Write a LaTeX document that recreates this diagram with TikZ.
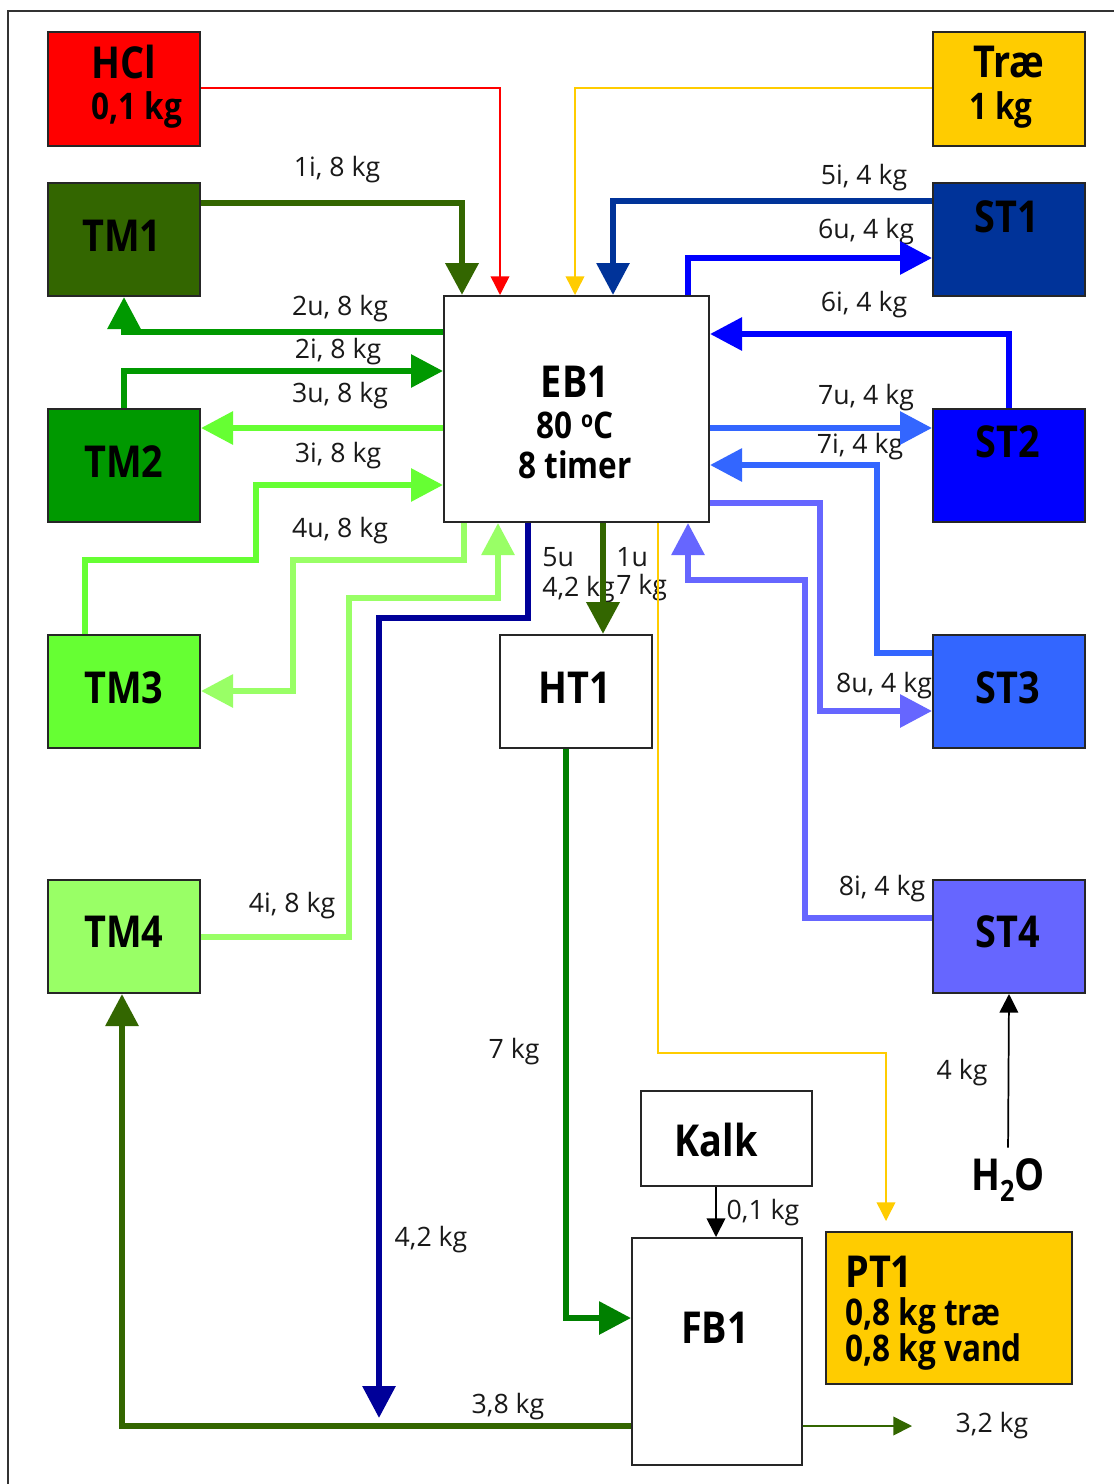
\documentclass[tikz,border=0pt]{standalone}
\usepackage{fontspec}
\setmainfont{Open Sans}
\newfontfamily\tfont[FakeStretch=0.86]{Open Sans}
\usetikzlibrary{arrows.meta}
\definecolor{cRed}{HTML}{FF0000}
\definecolor{cYel}{HTML}{FFCC00}
\definecolor{cTMa}{HTML}{336600}
\definecolor{cTMb}{HTML}{009900}
\definecolor{cTMc}{HTML}{66FF33}
\definecolor{cTMd}{HTML}{99FF66}
\definecolor{cSTa}{HTML}{003399}
\definecolor{cSTb}{HTML}{0000FF}
\definecolor{cSTc}{HTML}{3366FF}
\definecolor{cSTd}{HTML}{6666FF}
\definecolor{cNavy}{HTML}{000099}
\definecolor{cHT}{HTML}{008000}
\def\PX{0.75pt}
\tikzset{
  box/.style={draw=black!85, line width=1.5pt, inner sep=0pt, minimum width=152*\PX, minimum height=113*\PX},
  title/.style={font=\tfont\bfseries\fontsize{33}{36}\selectfont, inner sep=0pt},
  sub/.style={font=\tfont\bfseries\fontsize{27.5}{30}\selectfont, inner sep=0pt},
  lab/.style={font=\fontsize{20}{24}\selectfont, inner sep=0pt, text=black!90},
  big/.style={line width=4.6pt, -{Triangle[length=24pt,width=24pt]}},
  fine/.style={line width=1.1pt, -{Triangle[length=14pt,width=14pt]}},
  plain/.style={line width=4.6pt},
}
\begin{document}
\begin{tikzpicture}[x=0.75pt, y=-0.75pt]
\useasboundingbox (0,0) rectangle (1114,1484);
\fill[white] (0,0) rectangle (1114,1484);
\draw[line width=1.5pt, black!80] (8,1484) -- (8,11) -- (1114,11);

% boxes
\node[box, fill=cRed, minimum height=114*\PX] (HCl) at (124,89) {};
\node[box, fill=cYel, minimum height=114*\PX] (Trae) at (1009,89) {};
\node[box, fill=cTMa] (TM1) at (124,239.5) {};
\node[box, fill=cSTa] (ST1) at (1009,239.5) {};
\node[box, fill=white, minimum width=265*\PX, minimum height=226*\PX] (EB1) at (576.5,409) {};
\node[box, fill=cTMb] (TM2) at (124,465.5) {};
\node[box, fill=cSTb] (ST2) at (1009,465.5) {};
\node[box, fill=cTMc] (TM3) at (124,691.5) {};
\node[box, fill=white] (HT1) at (576,691.5) {};
\node[box, fill=cSTc] (ST3) at (1009,691.5) {};
\node[box, fill=cTMd] (TM4) at (124,936.5) {};
\node[box, fill=cSTd] (ST4) at (1009,936.5) {};
\node[box, fill=white, minimum width=171*\PX, minimum height=95*\PX] (Kalk) at (726.5,1138.5) {};
\node[box, fill=white, minimum width=170*\PX, minimum height=227*\PX] (FB1) at (717,1351.5) {};
\node[box, fill=cYel, minimum width=246*\PX, minimum height=152*\PX] (PT1) at (949,1308) {};

% box texts
\node[title] (tHCl) at (124,62) {HCl};
\node[sub] (tHClkg) at (137,110) {0,1 kg};
\node[title] (tTrae) at (1009,62) {Træ};
\node[sub] (tTraekg) at (1001,110) {1 kg};
\node[title] (tTM1) at (122,236) {TM1};
\node[title] (tST1) at (1007,217) {ST1};
\node[title] (tEB1) at (575,382) {EB1};
\node[sub] (tEBa) at (575,425) {80 \raisebox{0.55ex}{\fontsize{17}{17}\selectfont o}C};
\node[sub] (tEBb) at (575,465) {8 timer};
\node[title] (tTM2) at (124,462) {TM2};
\node[title] (tST2) at (1008,442) {ST2};
\node[title] (tTM3) at (124,688) {TM3};
\node[title] (tHT1) at (575,688) {HT1};
\node[title] (tST3) at (1008,688) {ST3};
\node[title] (tTM4) at (124,932) {TM4};
\node[title] (tST4) at (1008,932) {ST4};
\node[title] (tKalk) at (716,1140) {Kalk};
\node[title] (tFB1) at (715,1328) {FB1};
\node[title, anchor=west] (tPT1) at (845,1272) {PT1};
\node[sub, anchor=west] (tPTa) at (845,1316) {0,8 kg træ};
\node[sub, anchor=west] (tPTb) at (845,1352) {0,8 kg vand};
\node[title, inner sep=2pt] (H2O) at (1008,1180) {H\raisebox{-0.45ex}{\fontsize{22}{22}\selectfont 2}O};

% flow labels
\node[lab] (l1i) at (337,170) {1i, 8 kg};
\node[lab] (l2u) at (340,309) {2u, 8 kg};
\node[lab] (l2i) at (338,352) {2i, 8 kg};
\node[lab] (l3u) at (340,396) {3u, 8 kg};
\node[lab] (l3i) at (338,456) {3i, 8 kg};
\node[lab] (l4u) at (340,531) {4u, 8 kg};
\node[lab] (l4i) at (292,906) {4i, 8 kg};
\node[lab] (l5i) at (864,178) {5i, 4 kg};
\node[lab] (l6u) at (866,232) {6u, 4 kg};
\node[lab] (l6i) at (864,305) {6i, 4 kg};
\node[lab] (l7u) at (866,398) {7u, 4 kg};
\node[lab] (l7i) at (860,447) {7i, 4 kg};
\node[lab] (l8u) at (884,686) {8u, 4 kg};
\node[lab] (l8i) at (882,889) {8i, 4 kg};
\node[lab, anchor=west] (l5u) at (542,557) {5u};
\node[lab, anchor=west] (l5ukg) at (542,590) {4,2 kg};
\node[lab, anchor=west] (l1u) at (616,557) {1u};
\node[lab, anchor=west] (l1ukg) at (616,588) {7 kg};
\node[lab] (l7kg) at (514,1052) {7 kg};
\node[lab] (l42kg) at (431,1240) {4,2 kg};
\node[lab] (l38kg) at (508,1407) {3,8 kg};
\node[lab] (l01kg) at (763,1213) {0,1 kg};
\node[lab] (l4kg) at (962,1073) {4 kg};
\node[lab] (l32kg) at (992,1426) {3,2 kg};

\coordinate (e5u) at (379,1418);
\coordinate (e32) at (912,1426);

% connectors
\draw[fine, cRed] (HCl.east |- 0,88) -| (EB1.north -| 500,0);
\draw[fine, cYel] (Trae.west |- 0,88) -| (EB1.north -| 575,0);
\draw[big, cTMa, line width=5.2pt] (TM1.east |- 0,203) -| (EB1.north -| 462,0);
\draw[big, cSTa] (ST1.west |- 0,201) -| (EB1.north -| 613,0);
\draw[big, cSTb] (EB1.north -| 688,0) |- (ST1.west |- 0,258);
\draw[big, cTMb] (EB1.west |- 0,332) -| (TM1.south);
\draw[big, cTMb] (TM2.north) |- (EB1.west |- 0,371);
\draw[big, cTMc] (EB1.west |- 0,428) -- (TM2.east |- 0,428);
\draw[big, cTMc] (TM3.north -| 85,0) |- (256,560) |- (EB1.west |- 0,485);
\draw[big, cTMd] (EB1.south -| 464,0) |- (293,560) |- (TM3.east |- 0,691);
\draw[big, cTMd] (TM4.east |- 0,937) -| (349,598) -| (EB1.south -| 498,0);
\draw[big, cNavy] (EB1.south -| 528,0) |- (379,618) -- (e5u);
\draw[big, cTMa, line width=5.2pt] (EB1.south -| 603,0) -- (HT1.north -| 603,0);
\draw[big, cHT] (HT1.south -| 566,0) |- (FB1.west |- 0,1318);
\draw[fine, cYel, shorten >=7.5pt] (EB1.south -| 658,0) |- (886,1053) -- (PT1.north -| 886,0);
\draw[big, cSTb] (ST2.north) |- (EB1.east |- 0,334);
\draw[big, cSTc] (EB1.east |- 0,428) -- (ST2.west |- 0,428);
\draw[big, cSTc] (ST3.west |- 0,653) -| (877,465) -- (EB1.east |- 0,465);
\draw[big, cSTd] (EB1.east |- 0,503) -| (820,711) -- (ST3.west |- 0,711);
\draw[big, cSTd] (ST4.west |- 0,918) -| (805,580) -| (EB1.south -| 688,0);
\draw[fine, black, line width=1.3pt, shorten <=6pt] (H2O.north) -- (ST4.south);
\draw[fine, black, line width=1.3pt] (Kalk.south -| 716,0) -- (FB1.north -| 716,0);
\draw[plain, cTMa, -{Triangle[length=24pt,width=24pt]}] (FB1.west |- 0,1426) -| (TM4.south -| 122,0);
\draw[fine, cTMa, line width=1.2pt] (FB1.east |- 0,1426) -- (e32);
\end{tikzpicture}
\end{document}
